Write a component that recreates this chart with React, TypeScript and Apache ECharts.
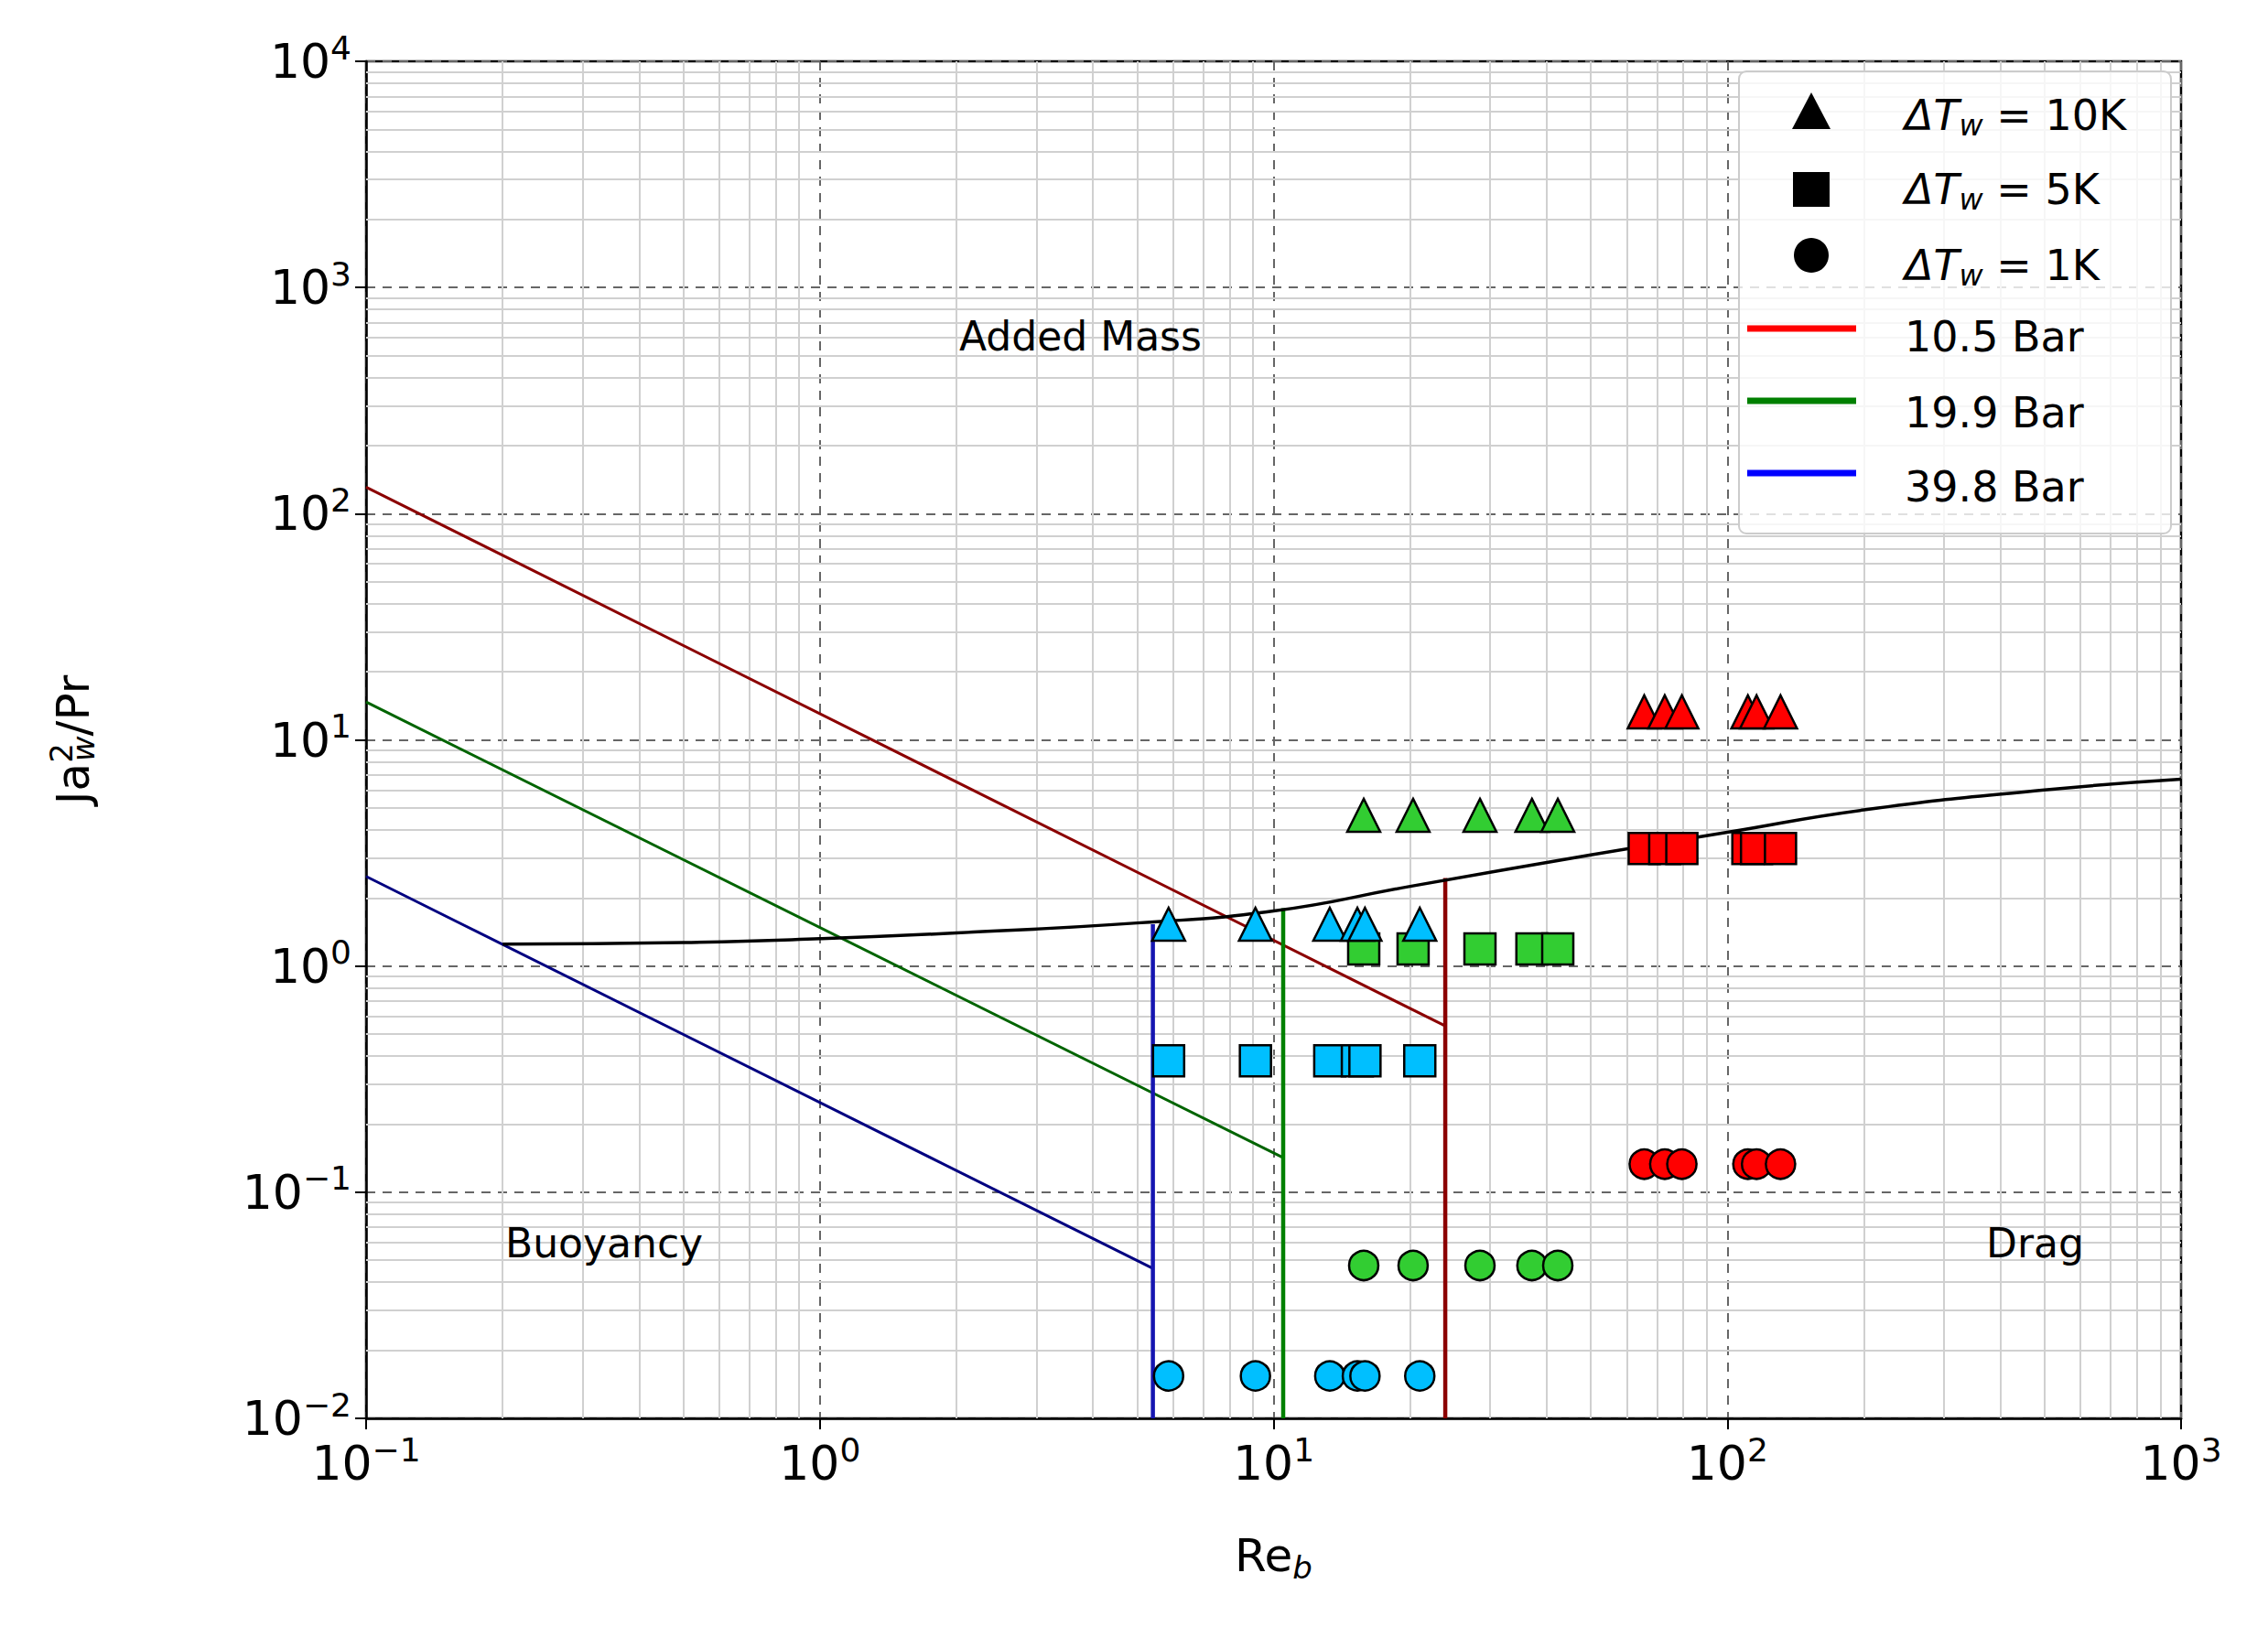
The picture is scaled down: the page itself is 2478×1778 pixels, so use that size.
import React, { useEffect, useRef } from 'react';
import * as echarts from 'echarts';

// Re_b of each sample, per pressure
const reRed = [65.6, 72.8, 79.4, 111, 116, 131];
const reGreen = [15.8, 20.3, 28.5, 37.1, 42.3];
const reBlue = [5.87, 9.12, 13.3, 15.3, 15.9, 21.0];
// Ja^2/Pr per pressure, for dT = 10K, 5K, 1K
const jaRed = [13.3, 3.31, 0.133];
const jaGreen = [4.64, 1.19, 0.0474];
const jaBlue = [1.53, 0.381, 0.0154];

// regime boundaries
const redDiag = [[0.1, 131], [23.9, 0.543]];
const redVert = [[23.9, 0.01], [23.9, 2.45]];
const greenDiag = [[0.1, 14.7], [10.5, 0.142]];
const greenVert = [[10.5, 0.01], [10.5, 1.8]];
const blueDiag = [[0.1, 2.49], [5.42, 0.046]];
const blueVert = [[5.42, 0.01], [5.42, 1.53]];
const blackCurve = [
  [0.2, 1.25], [0.5, 1.27], [1, 1.32], [2, 1.4], [5, 1.55], [10, 1.75],
  [20, 2.25], [50, 3.1], [100, 3.9], [200, 4.9], [500, 6.0], [1000, 6.7]
];

const symbols = ['triangle', 'rect', 'circle'];
const symbolSizes = [36, 34, 32];

const minorX: number[] = [];
for (let d = -1; d < 3; d++) for (let k = 2; k <= 9; k++) minorX.push(k * Math.pow(10, d));
const minorY: number[] = [];
for (let d = -2; d < 4; d++) for (let k = 2; k <= 9; k++) minorY.push(k * Math.pow(10, d));

const powLabel = (v: number) => {
  const e = Math.round(Math.log10(v));
  return `{b|10}{s|${e < 0 ? '\u2212' + -e : e}}`;
};

const App = () => {
  const ref = useRef<HTMLDivElement>(null);

  useEffect(() => {
    document.body.style.margin = '0';
    const chart = echarts.init(ref.current!, null, { renderer: 'svg' });
    const font = 'DejaVu Sans';
    const rich = {
      b: { fontSize: 52, fontFamily: font, color: '#000' },
      s: { fontSize: 36, fontFamily: font, color: '#000', padding: [0, 0, 30, 0] }
    };

    const scatter = (xs: number[], ys: number[], color: string) =>
      ys.map((y, i) => ({
        type: 'scatter',
        symbol: symbols[i],
        symbolSize: symbolSizes[i],
        z: 5,
        itemStyle: { color, borderColor: '#000', borderWidth: 2.5, opacity: 1 },
        data: xs.map((x) => [x, y])
      }));

    const line = (data: number[][], color: string, width: number, smooth = false) => ({
      type: 'line',
      data,
      smooth,
      showSymbol: false,
      symbol: 'none',
      z: 3,
      lineStyle: { color, width }
    });

    const legendText = {
      n: { fontSize: 46, fontFamily: font, fill: '#000' },
      i: { fontSize: 46, fontFamily: font, fontStyle: 'italic', fill: '#000' },
      w: { fontSize: 32, fontFamily: font, fontStyle: 'italic', fill: '#000', padding: [22, 0, 0, 0] }
    };
    const legendRow = (y: number, sym: any, label: string) => [
      { ...sym, z: 12 },
      { type: 'text', x: 2081, y: y - 28, z: 12, style: { text: label, rich: legendText } }
    ];

    chart.setOption({
      animation: false,
      backgroundColor: '#fff',
      grid: { left: 400, right: 95, top: 67, bottom: 228, show: true, borderColor: '#000', borderWidth: 2.5, backgroundColor: 'transparent' },
      xAxis: {
        type: 'log', min: 0.1, max: 1000, logBase: 10,
        name: '{r|Re}{w|b}', nameLocation: 'middle', nameGap: 120,
        nameTextStyle: { rich: {
          r: { fontSize: 50, fontFamily: font, color: '#000' },
          w: { fontSize: 34, fontFamily: font, fontStyle: 'italic', color: '#000', padding: [26, 0, 0, 0] }
        } },
        axisLine: { onZero: false, lineStyle: { color: '#000', width: 2.5 } },
        axisTick: { inside: false, length: 12, lineStyle: { color: '#000', width: 2 } },
        axisLabel: { formatter: powLabel, rich, margin: 16 },
        splitLine: { show: true, lineStyle: { color: '#666', type: [10, 8], width: 2 } }
      },
      yAxis: {
        type: 'log', min: 0.01, max: 10000, logBase: 10,
        name: '{r|Ja}{s|2}{w|w}{r|/Pr}', nameLocation: 'middle', nameGap: 290, nameRotate: 90,
        nameTextStyle: { rich: {
          r: { fontSize: 50, fontFamily: font, color: '#000' },
          s: { fontSize: 34, fontFamily: font, color: '#000', padding: [0, 0, 26, 0] },
          w: { fontSize: 34, fontFamily: font, fontStyle: 'italic', color: '#000', padding: [22, 0, 0, -20] }
        } },
        axisLine: { onZero: false, lineStyle: { color: '#000', width: 2.5 } },
        axisTick: { length: 12, lineStyle: { color: '#000', width: 2 } },
        axisLabel: { formatter: powLabel, rich, margin: 16 },
        splitLine: { show: true, lineStyle: { color: '#666', type: [10, 8], width: 2 } }
      },
      series: [
        {
          type: 'scatter', data: [], silent: true,
          markLine: {
            silent: true, symbol: 'none', label: { show: false }, z: 1,
            lineStyle: { color: '#d0d0d0', type: 'solid', width: 2 },
            data: [
              ...minorX.map((v) => ({ xAxis: v })),
              ...minorY.map((v) => ({ yAxis: v }))
            ]
          }
        },
        line(redDiag, '#8b0000', 3),
        line(redVert, '#8b0000', 4.5),
        line(greenDiag, '#006400', 3),
        line(greenVert, '#008000', 4.5),
        line(blueDiag, '#000080', 3),
        line(blueVert, '#1515b0', 4.5),
        line(blackCurve, '#000', 3.5, true),
        ...scatter(reRed, jaRed, '#ff0000'),
        ...scatter(reGreen, jaGreen, '#32cd32'),
        ...scatter(reBlue, jaBlue, '#00bfff')
      ],
      graphic: [
        { type: 'text', x: 1048, y: 345, z: 10, style: { text: 'Added Mass', fontSize: 44, fontFamily: font, fill: '#000' } },
        { type: 'text', x: 552, y: 1336, z: 10, style: { text: 'Buoyancy', fontSize: 44, fontFamily: font, fill: '#000' } },
        { type: 'text', x: 2170, y: 1336, z: 10, style: { text: 'Drag', fontSize: 44, fontFamily: font, fill: '#000' } },
        {
          type: 'rect', x: 1900, y: 78, z: 11,
          shape: { width: 472, height: 505, r: 8 },
          style: { fill: 'rgba(255,255,255,0.8)', stroke: '#ccc', lineWidth: 2 }
        },
        ...legendRow(127, { type: 'polygon', shape: { points: [[1979, 101], [1958, 141], [2000, 141]] }, style: { fill: '#000' } }, '{i|\u0394T}{w|w}{n| = 10K}'),
        ...legendRow(208, { type: 'rect', shape: { x: 1959, y: 188, width: 40, height: 38 }, style: { fill: '#000' } }, '{i|\u0394T}{w|w}{n| = 5K}'),
        ...legendRow(291, { type: 'circle', shape: { cx: 1979, cy: 279, r: 19 }, style: { fill: '#000' } }, '{i|\u0394T}{w|w}{n| = 1K}'),
        ...legendRow(373, { type: 'line', shape: { x1: 1909, y1: 359, x2: 2028, y2: 359 }, style: { stroke: '#ff0000', lineWidth: 7 } }, '{n|10.5 Bar}'),
        ...legendRow(456, { type: 'line', shape: { x1: 1909, y1: 438, x2: 2028, y2: 438 }, style: { stroke: '#008000', lineWidth: 7 } }, '{n|19.9 Bar}'),
        ...legendRow(537, { type: 'line', shape: { x1: 1909, y1: 517, x2: 2028, y2: 517 }, style: { stroke: '#0000ff', lineWidth: 7 } }, '{n|39.8 Bar}')
      ]
    });

    return () => chart.dispose();
  }, []);

  return <div ref={ref} style={{ width: 2478, height: 1778 }} />;
};

export default App;
